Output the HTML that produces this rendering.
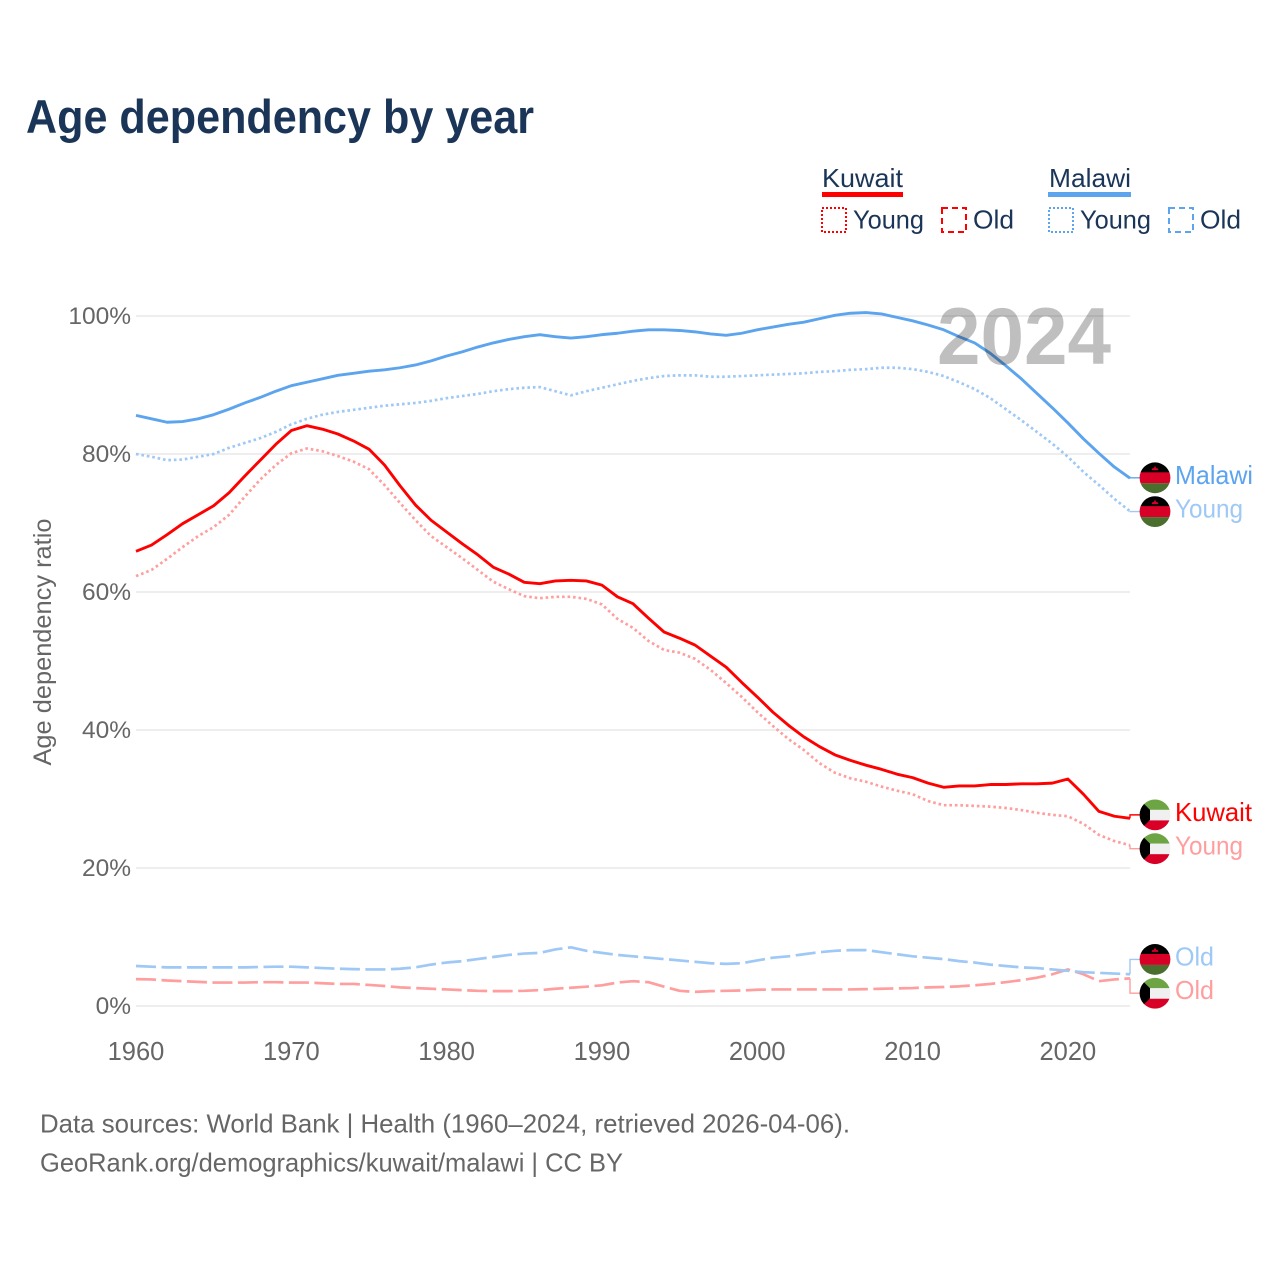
<!DOCTYPE html>
<html lang="en">
<head>
<meta charset="utf-8">
<title>Age dependency by year</title>
<style>
html,body{margin:0;padding:0;background:#fff;}
svg{display:block;font-family:"Liberation Sans",sans-serif;}
</style>
</head>
<body>
<svg id="chart" xmlns="http://www.w3.org/2000/svg" width="1280" height="1280" viewBox="0 0 1280 1280">
  <defs>
    <clipPath id="flag-clip"><circle r="15.4"></circle></clipPath>
    <g id="flag-malawi" clip-path="url(#flag-clip)">
      <rect x="-16" y="-16" width="32" height="11" fill="#000"></rect>
      <rect x="-16" y="-5.5" width="32" height="11" fill="#d80027"></rect>
      <rect x="-16" y="5.5" width="32" height="11" fill="#496e2d"></rect>
      <path d="M-3.5-7.5 L-2.6-9.5 L-1.2-9.5 L0-12 L1.2-9.5 L2.6-9.5 L3.5-7.5Z" fill="#d80027"></path>
    </g>
    <g id="flag-kuwait" clip-path="url(#flag-clip)">
      <rect x="-16" y="-16" width="32" height="11" fill="#6da544"></rect>
      <rect x="-16" y="-5" width="32" height="10.5" fill="#f0f0f0"></rect>
      <rect x="-16" y="5.5" width="32" height="11" fill="#d80027"></rect>
      <path d="M-16-16 L-5-5 L-5 5 L-16 16Z" fill="#000"></path>
    </g>
  </defs>

  <rect width="1280" height="1280" fill="#fff"></rect>

  <text x="26" y="133" font-size="47.5" font-weight="700" fill="#1a3557" textLength="508" lengthAdjust="spacingAndGlyphs">Age dependency by year</text>

  <g fill="#1a3557" font-size="26">
    <text x="822" y="187" textLength="81" lengthAdjust="spacingAndGlyphs">Kuwait</text>
    <rect x="822" y="192" width="81" height="5" fill="#ff0000"></rect>
    <rect x="822" y="208" width="24" height="24" fill="none" stroke="#ff0000" stroke-width="2" stroke-dasharray="2 2"></rect>
    <text x="853" y="228.5" textLength="71" lengthAdjust="spacingAndGlyphs">Young</text>
    <rect x="942" y="208" width="24" height="24" fill="none" stroke="#ff0000" stroke-width="2" stroke-dasharray="6 4"></rect>
    <text x="973" y="228.5" textLength="41" lengthAdjust="spacingAndGlyphs">Old</text>
    <text x="1049" y="187" textLength="82" lengthAdjust="spacingAndGlyphs">Malawi</text>
    <rect x="1048" y="192" width="83" height="5" fill="#5ca4ee"></rect>
    <rect x="1049" y="208" width="24" height="24" fill="none" stroke="#5ca4ee" stroke-width="2" stroke-dasharray="2 2"></rect>
    <text x="1080" y="228.5" textLength="71" lengthAdjust="spacingAndGlyphs">Young</text>
    <rect x="1169" y="208" width="24" height="24" fill="none" stroke="#5ca4ee" stroke-width="2" stroke-dasharray="6 4"></rect>
    <text x="1200" y="228.5" textLength="41" lengthAdjust="spacingAndGlyphs">Old</text>
  </g>

  <g id="grid"></g>
  <g id="yticks"></g>
  <g id="xticks"></g>
  <text transform="translate(51,642) rotate(-90)" text-anchor="middle" font-size="25" fill="#666" textLength="247" lengthAdjust="spacingAndGlyphs">Age dependency ratio</text>

  <g id="series"></g>
  <g id="endlabels"></g>

  <text x="937" y="364" font-size="81" font-weight="700" fill="#000" fill-opacity="0.25" textLength="174" lengthAdjust="spacingAndGlyphs">2024</text>

  <g fill="#666" font-size="26">
    <text x="40" y="1132.5" textLength="810" lengthAdjust="spacingAndGlyphs">Data sources: World Bank | Health (1960–2024, retrieved 2026-04-06).</text>
    <text x="40" y="1171.5" textLength="583" lengthAdjust="spacingAndGlyphs">GeoRank.org/demographics/kuwait/malawi | CC BY</text>
  </g>
</svg>
<script>
const years = [1960,1961,1962,1963,1964,1965,1966,1967,1968,1969,1970,1971,1972,1973,1974,1975,1976,1977,1978,1979,1980,1981,1982,1983,1984,1985,1986,1987,1988,1989,1990,1991,1992,1993,1994,1995,1996,1997,1998,1999,2000,2001,2002,2003,2004,2005,2006,2007,2008,2009,2010,2011,2012,2013,2014,2015,2016,2017,2018,2019,2020,2021,2022,2023,2024];
const kuwaitTotal = [65.9,66.8,68.3,69.9,71.2,72.5,74.4,76.8,79.1,81.4,83.4,84.1,83.6,82.9,81.9,80.7,78.4,75.4,72.6,70.4,68.7,67.0,65.4,63.6,62.6,61.4,61.2,61.6,61.7,61.6,61.0,59.3,58.3,56.2,54.2,53.3,52.3,50.7,49.1,46.9,44.8,42.6,40.7,39.0,37.6,36.4,35.6,34.9,34.3,33.6,33.1,32.3,31.7,31.9,31.9,32.1,32.1,32.2,32.2,32.3,32.9,30.7,28.2,27.5,27.2];
const kuwaitYoung = [62.3,63.2,64.8,66.5,68.1,69.4,71.2,73.8,76.3,78.4,80.1,80.8,80.4,79.7,78.9,77.8,75.5,72.9,70.4,68.1,66.5,64.9,63.2,61.5,60.4,59.4,59.1,59.3,59.3,59.0,58.2,56.1,54.8,52.9,51.6,51.2,50.3,48.7,46.8,44.8,42.6,40.6,38.7,37.1,35.2,33.8,33.0,32.5,31.8,31.2,30.7,29.7,29.1,29.1,29.0,28.9,28.7,28.4,28.0,27.7,27.5,26.4,24.8,23.9,23.3];
const kuwaitOld = [3.9,3.85,3.7,3.6,3.5,3.4,3.4,3.4,3.45,3.45,3.4,3.4,3.3,3.2,3.2,3.05,2.9,2.7,2.6,2.5,2.4,2.3,2.2,2.15,2.15,2.2,2.3,2.5,2.65,2.8,3.0,3.4,3.6,3.45,2.8,2.2,2.05,2.15,2.2,2.25,2.35,2.4,2.4,2.4,2.4,2.4,2.4,2.45,2.5,2.55,2.6,2.7,2.75,2.85,3.0,3.2,3.45,3.75,4.1,4.6,5.3,4.6,3.6,3.85,4.0];
const malawiTotal = [85.6,85.1,84.6,84.7,85.1,85.7,86.5,87.4,88.2,89.1,89.9,90.4,90.9,91.4,91.7,92.0,92.2,92.5,92.9,93.5,94.2,94.8,95.5,96.1,96.6,97.0,97.3,97.0,96.8,97.0,97.3,97.5,97.8,98.0,98.0,97.9,97.7,97.4,97.2,97.5,98.0,98.4,98.8,99.1,99.6,100.1,100.4,100.5,100.3,99.8,99.3,98.7,98.0,97.0,96.1,94.6,92.8,90.9,88.8,86.7,84.5,82.2,80.1,78.1,76.5];
const malawiYoung = [80.0,79.6,79.1,79.2,79.6,80.0,80.9,81.6,82.3,83.2,84.3,85.1,85.7,86.1,86.4,86.7,87.0,87.2,87.4,87.7,88.1,88.4,88.7,89.1,89.4,89.6,89.7,89.1,88.5,89.1,89.6,90.1,90.6,91.0,91.3,91.4,91.4,91.2,91.2,91.3,91.4,91.5,91.6,91.7,91.9,92.0,92.2,92.3,92.5,92.5,92.3,91.9,91.3,90.4,89.4,88.1,86.5,84.9,83.2,81.5,79.6,77.4,75.5,73.5,71.7];
const malawiOld = [5.8,5.7,5.6,5.6,5.6,5.6,5.6,5.6,5.65,5.7,5.7,5.6,5.5,5.4,5.35,5.3,5.3,5.4,5.6,6.0,6.3,6.5,6.8,7.1,7.4,7.6,7.7,8.2,8.5,8.0,7.7,7.4,7.2,7.0,6.8,6.6,6.4,6.2,6.1,6.2,6.6,7.0,7.2,7.5,7.8,8.0,8.1,8.1,7.8,7.5,7.2,7.0,6.8,6.5,6.3,6.0,5.8,5.6,5.5,5.3,5.1,4.9,4.8,4.7,4.6];
const yTickValues = [0,20,40,60,80,100];
const xTickValues = [1960,1970,1980,1990,2000,2010,2020];

const NS = 'http://www.w3.org/2000/svg';
const RED = '#ff0000', RED_LIGHT = '#ff9e9e', BLUE = '#5ca4ee', BLUE_LIGHT = '#9ec8f5';
const DOTTED = '2.6 2.9', DASHED = '20 5.5';

function xScale(year) { return 136 + (year - 1960) * (994 / 64); }
function yScale(value) { return 1006 - value * 6.9; }
function make(tag, attrs, parent) {
  const el = document.createElementNS(NS, tag);
  for (const k in attrs) el.setAttribute(k, attrs[k]);
  parent.appendChild(el);
  return el;
}

const gridG = document.getElementById('grid');
const yTickG = document.getElementById('yticks');
const xTickG = document.getElementById('xticks');
const seriesG = document.getElementById('series');
const labelG = document.getElementById('endlabels');

yTickValues.forEach(function (v) {
  const line = make('line', {x1: 136, x2: 1130, y1: yScale(v), y2: yScale(v), stroke: '#eeeeee', 'stroke-width': 2}, gridG);
  
  
  const t = make('text', {x: 131, y: yScale(v) + 8, 'text-anchor': 'end', 'font-size': 24.5, fill: '#666'}, yTickG);
  t.textContent = v + '%';
  
  
});

xTickValues.forEach(function (yr) {
  const t = make('text', {x: xScale(yr), y: 1060, 'text-anchor': 'middle', 'font-size': 25.5, fill: '#666'}, xTickG);
  t.textContent = String(yr);
  
  
});

const seriesList = [
  {key: 'kuwait-old', values: kuwaitOld, color: RED_LIGHT, dash: DASHED, label: 'Old', flag: 'flag-kuwait', textW: 39},
  {key: 'malawi-old', values: malawiOld, color: BLUE_LIGHT, dash: DASHED, label: 'Old', flag: 'flag-malawi', textW: 39},
  {key: 'kuwait-young', values: kuwaitYoung, color: RED_LIGHT, dash: DOTTED, label: 'Young', flag: 'flag-kuwait', textW: 68},
  {key: 'malawi-young', values: malawiYoung, color: BLUE_LIGHT, dash: DOTTED, label: 'Young', flag: 'flag-malawi', textW: 68},
  {key: 'kuwait-total', values: kuwaitTotal, color: RED, dash: '', label: 'Kuwait', flag: 'flag-kuwait', textW: 77},
  {key: 'malawi-total', values: malawiTotal, color: BLUE, dash: '', label: 'Malawi', flag: 'flag-malawi', textW: 78}
];

seriesList.forEach(function (s) {
  const d = s.values.map(function (v, i) {
    return (i ? 'L' : 'M') + xScale(years[i]).toFixed(2) + ' ' + yScale(v).toFixed(2);
  }).join(' ');
  const attrs = {d: d, fill: 'none', stroke: s.color, 'stroke-width': s.dash ? 2.7 : 2.9, 'stroke-linejoin': 'round'};
  if (s.dash) attrs['stroke-dasharray'] = s.dash;
  const path = make('path', attrs, seriesG);
  
  
  s.endY = yScale(s.values[s.values.length - 1]);
  s.labelY = s.endY;
});

// Dodge end labels: overlapping neighbours are spread evenly around their mean position.
const SPACING = 33.8;
const sorted = seriesList.slice().sort(function (a, b) { return a.endY - b.endY; });
let cluster = [];
function flushCluster() {
  if (!cluster.length) return;
  const mean = cluster.reduce(function (sum, s) { return sum + s.endY; }, 0) / cluster.length;
  cluster.forEach(function (s, i) { s.labelY = mean + (i - (cluster.length - 1) / 2) * SPACING; });
  cluster = [];
}
sorted.forEach(function (s) {
  if (cluster.length && s.endY - cluster[cluster.length - 1].endY > SPACING + 1) flushCluster();
  cluster.push(s);
});
flushCluster();

seriesList.forEach(function (s) {
  const conn = make('path', {d: 'M1130 ' + s.endY.toFixed(2) + ' V' + s.labelY.toFixed(2) + ' H1141', fill: 'none', stroke: s.color, 'stroke-width': 1.4}, labelG);
  
  
  const flag = make('use', {href: '#' + s.flag, transform: 'translate(1155,' + s.labelY.toFixed(2) + ')'}, labelG);
  
  
  const t = make('text', {x: 1175, y: (s.labelY + 6).toFixed(2), 'font-size': 26, fill: s.color, textLength: s.textW, lengthAdjust: 'spacingAndGlyphs'}, labelG);
  t.textContent = s.label;
  
  
});
</script>
</body>
</html>
